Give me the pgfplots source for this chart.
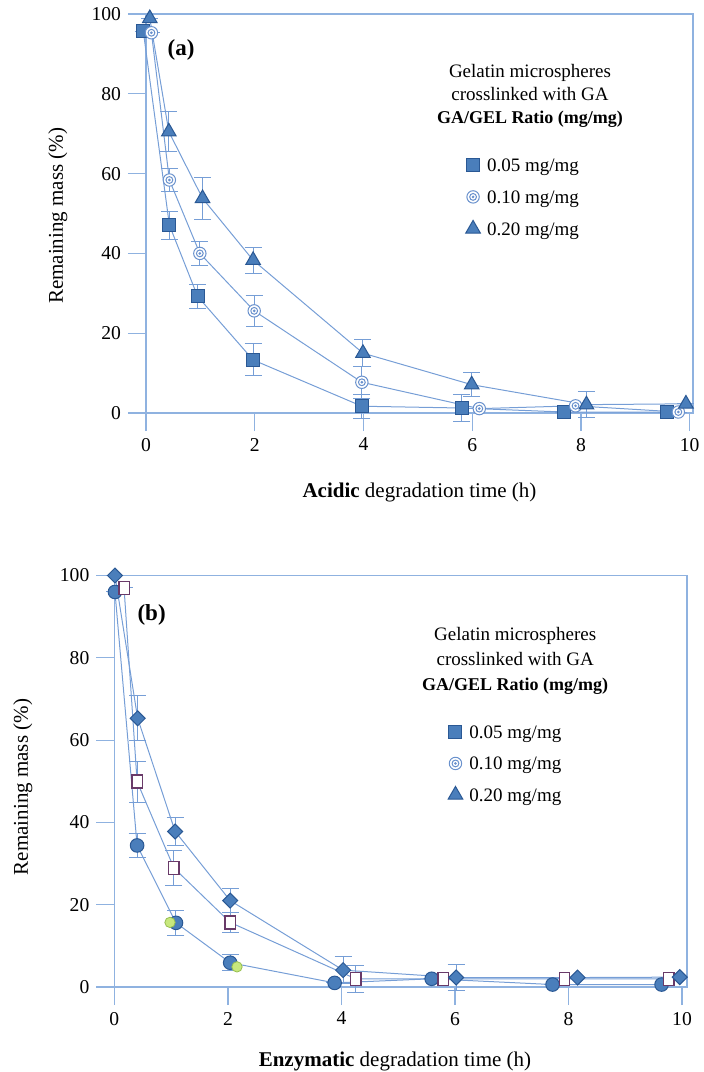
\documentclass[border=0pt]{standalone}
\usepackage{fontspec}
\setmainfont{Liberation Serif}
\usepackage{pgfplots}
\usepackage{pgfplotstable}
\pgfplotsset{compat=1.18}
\definecolor{axblue}{RGB}{143,178,224}
\definecolor{lnblue}{RGB}{118,158,214}
\definecolor{mkfill}{RGB}{74,126,187}
\definecolor{mkdraw}{RGB}{42,88,148}
\definecolor{ringblue}{RGB}{105,145,205}
\definecolor{sqedge}{RGB}{105,58,105}
\definecolor{lime}{RGB}{200,232,125}
\definecolor{limedraw}{RGB}{150,190,80}

\pgfdeclareplotmark{dring}{%
  \pgfpathcircle{\pgfpointorigin}{\pgfplotmarksize}\pgfusepathqfillstroke
  \pgfpathcircle{\pgfpointorigin}{0.55\pgfplotmarksize}\pgfusepathqstroke
  \pgfpathcircle{\pgfpointorigin}{0.12\pgfplotmarksize}\pgfusepathqstroke}

% Panel (a): acidic degradation
\pgfplotstableread{
x y e
-0.05 95.7 0.0
0.43 47.1 3.5
0.95 29.2 3.1
1.97 13.3 4.0
3.97 1.7 3.0
5.81 1.25 3.3
7.68 0.25 0.0
9.58 0.25 0.0
}\aSq
\pgfplotstableread{
x y e
0.10 95.3 0.0
0.43 58.4 3.0
0.99 40.0 3.0
1.99 25.6 3.9
3.97 7.7 4.0
6.13 1.1 0.0
7.90 1.8 0.0
9.79 0.25 0.0
}\aCi
\pgfplotstableread{
x y e
0.07 98.9 0.0
0.42 70.5 5.0
1.04 53.8 5.2
1.97 38.3 3.3
3.99 15.0 3.3
5.99 7.1 3.0
8.10 2.1 3.3
9.93 2.3 0.0
}\aTr
% Panel (b): enzymatic degradation
\pgfplotstableread{
x y e
0.01 96.0 0.0
0.40 34.4 3.0
1.085 15.6 3.0
2.04 5.9 2.0
3.88 1.0 0.0
5.59 2.0 0.0
7.72 0.6 0.0
9.64 0.6 0.0
}\bCi
\pgfplotstableread{
x y e
0.17 97.0 0.0
0.40 49.9 5.0
1.05 28.9 4.3
2.04 15.7 2.5
4.25 2.0 3.3
5.79 2.0 0.0
7.93 2.0 0.0
9.77 2.0 0.0
}\bSq
\pgfplotstableread{
x y e
0.01 100.0 0.0
0.41 65.3 5.5
1.07 37.8 3.5
2.04 21.0 3.0
4.03 4.1 3.2
6.02 2.3 3.2
8.16 2.3 0.0
9.96 2.4 0.0
}\bDi
\pgfplotstableread{
x y
0.98 15.7
2.16 4.9
}\bGr

\pgfplotsset{
  mystyle/.style={
    scale only axis, clip=false,
    xmin=0, ymin=0, ymax=100,
    xtick={0,2,...,10}, ytick={0,20,...,100},
    xtick pos=bottom, ytick pos=left,
    tick align=outside, major tick length=9pt,
    axis line style={axblue, line width=0.6pt},
    tick style={axblue, line width=0.6pt},
    tick label style={font=\fontsize{9.8}{11}\selectfont},
    /pgf/number format/assume math mode=true,
    label style={font=\fontsize{10.5}{12}\selectfont},
    legend style={draw=none, fill=none, inner sep=0pt, row sep=7.75pt, column sep=3pt,
      font=\fontsize{9.5}{11}\selectfont,
      nodes={inner sep=0pt, text height=6.5pt, text depth=0pt}},
    legend cell align=left,
    legend image code/.code={\path[draw=none, fill=none] (-4pt,-4pt) rectangle (4pt,4pt); \draw[##1] plot coordinates {(0pt,0pt)};},
  },
  ser/.style={lnblue, line width=0.5pt},
  eb/.style={error bars/y dir=both, error bars/y explicit,
    error bars/error bar style={lnblue, line width=0.5pt},
    error bars/error mark options={lnblue, mark size=4.25pt, line width=0.5pt, rotate=90}},
  msq/.style={mark=square*, mark size=3.25pt, mark options={fill=mkfill, draw=mkdraw, line width=0.5pt}},
  mring/.style={mark=dring, mark size=3.1pt, mark options={fill=white, draw=ringblue, line width=0.5pt}},
  mtri/.style={mark=triangle*, mark size=4.2pt, mark options={fill=mkfill, draw=mkdraw, line width=0.5pt}},
}

\begin{document}
\begin{tikzpicture}
\useasboundingbox (0,0) rectangle (351.5pt,-536pt);

% ---------------- panel (a)
\begin{axis}[mystyle,
  at={(73pt,-206.5pt)}, anchor=south west,
  width=273.5pt, height=199.5pt, xmax=10.06,
  xlabel={\textbf{Acidic} degradation time (h)},
  ylabel={Remaining mass (\%)},
  xlabel style={at={(axis description cs:0.5,-0.2)}, anchor=center},
  ylabel style={at={(axis description cs:-0.161,0.494)}, anchor=center},
  legend style={at={(axis description cs:0.5826,0.6416)}, anchor=north west},
]
\addplot[ser, msq, eb, forget plot] table[x=x, y=y, y error=e] {\aSq};
\addplot[ser, mring, eb, forget plot] table[x=x, y=y, y error=e] {\aCi};
\addplot[ser, mtri, eb, forget plot] table[x=x, y=y, y error=e] {\aTr};
\addlegendimage{only marks, msq}\addlegendentry{0.05 mg/mg}
\addlegendimage{only marks, mring}\addlegendentry{0.10 mg/mg}
\addlegendimage{only marks, mtri}\addlegendentry{0.20 mg/mg}
\node[font=\fontsize{11.5}{13}\selectfont\bfseries] at (axis description cs:0.064,0.91) {(a)};
\node[align=center, font=\fontsize{9.5}{11.5}\selectfont] at (axis description cs:0.702,0.794)
  {Gelatin microspheres\\crosslinked with GA\\{\fontsize{9}{11.5}\selectfont\bfseries GA/GEL Ratio (mg/mg)}};
\end{axis}

% ---------------- panel (b)
\begin{axis}[mystyle,
  at={(57.2pt,-493.5pt)}, anchor=south west,
  width=286.3pt, height=205.75pt, xmax=10.088,
  xlabel={\textbf{Enzymatic} degradation time (h)},
  ylabel={Remaining mass (\%)},
  xlabel style={at={(axis description cs:0.49,-0.182)}, anchor=center},
  ylabel style={at={(axis description cs:-0.16,0.486)}, anchor=center},
  legend style={at={(axis description cs:0.581,0.639)}, anchor=north west, row sep=7.5pt},
]
\addplot[ser, eb, forget plot, mark=*, mark size=3.4pt, mark options={fill=mkfill, draw=mkdraw, line width=0.5pt}] table[x=x, y=y, y error=e] {\bCi};
\addplot[ser, eb, forget plot, mark=square*, mark size=2.6pt, mark options={fill=white, draw=sqedge, line width=0.7pt, yscale=1.25}] table[x=x, y=y, y error=e] {\bSq};
\addplot[ser, eb, forget plot, mark=square*, mark size=2.65pt, mark options={fill=mkfill, draw=mkdraw, line width=0.5pt, rotate=45}] table[x=x, y=y, y error=e] {\bDi};
\addplot[only marks, forget plot, mark=*, mark size=2.6pt, mark options={fill=lime, draw=limedraw, line width=0.4pt}] table[x=x, y=y] {\bGr};
\addlegendimage{only marks, msq}\addlegendentry{0.05 mg/mg}
\addlegendimage{only marks, mring}\addlegendentry{0.10 mg/mg}
\addlegendimage{only marks, mtri}\addlegendentry{0.20 mg/mg}
\node[font=\fontsize{11.5}{13}\selectfont\bfseries] at (axis description cs:0.065,0.904) {(b)};
\node[align=center, font=\fontsize{9.5}{12.5}\selectfont] at (axis description cs:0.70,0.792)
  {Gelatin microspheres\\crosslinked with GA\\{\fontsize{9}{12.5}\selectfont\bfseries GA/GEL Ratio (mg/mg)}};
\end{axis}
\end{tikzpicture}
\end{document}
